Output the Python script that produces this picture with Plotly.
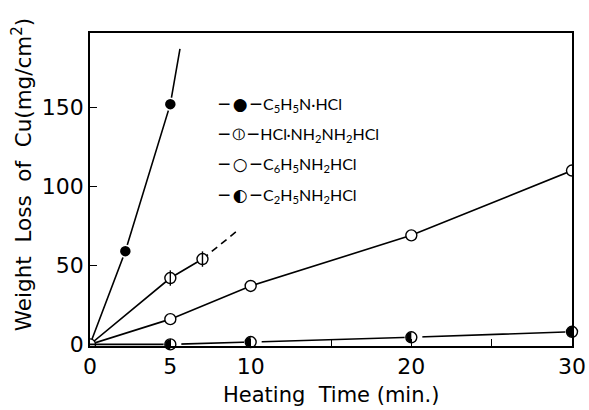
import plotly.graph_objects as go

# ---- data ----
# C5H5N·HCl (filled circles) + fitted line end
pyr_time = [2.2, 5]
pyr_loss = [59, 152]
pyr_line_end = [5.6, 187]

# HCl·NH2NH2HCl (circle with vertical bar) + dashed extrapolation end
hyd_time = [5, 7]
hyd_loss = [42, 54]
hyd_dash_end = [9.3, 73]

# C6H5NH2HCl (open circles)
ani_time = [5, 10, 20, 30]
ani_loss = [16, 37, 69, 110]

# C2H5NH2HCl (half-filled circles)
eth_time = [5, 10, 20, 30]
eth_loss = [0, 1.5, 4.5, 8]

origin = [0, 0]

x_ticks = [0, 5, 10, 15, 20, 25, 30]
x_ticktext = ["0", "5", "10", "", "20", "", "30"]
y_ticks = [0, 50, 100, 150]

legend_labels = [
    ("●", "C<sub>5</sub>H<sub>5</sub>N·HCl"),
    ("⦶", "HCl·NH<sub>2</sub>NH<sub>2</sub>HCl"),
    ("○", "C<sub>6</sub>H<sub>5</sub>NH<sub>2</sub>HCl"),
    ("◐", "C<sub>2</sub>H<sub>5</sub>NH<sub>2</sub>HCl"),
]

FONT = "DejaVu Sans, sans-serif"
LEG_FONT = "Lato, DejaVu Sans, sans-serif"
LW = 1.6
MS = 11

fig = go.Figure()

# pyridine
fig.add_trace(go.Scatter(
    x=[origin[0]] + pyr_time + [pyr_line_end[0]],
    y=[origin[1]] + pyr_loss + [pyr_line_end[1]],
    mode="lines", line=dict(color="black", width=LW), cliponaxis=False))
fig.add_trace(go.Scatter(
    x=pyr_time, y=pyr_loss, mode="markers",
    marker=dict(symbol="circle", size=MS + 1, color="black",
                line=dict(color="white", width=1.5))))

# hydrazine
fig.add_trace(go.Scatter(
    x=[hyd_time[-1], hyd_dash_end[0]], y=[hyd_loss[-1], hyd_dash_end[1]],
    mode="lines", line=dict(color="black", width=LW, dash="7px,5px")))
fig.add_trace(go.Scatter(
    x=[origin[0]] + hyd_time, y=[origin[1]] + hyd_loss,
    mode="lines", line=dict(color="black", width=LW)))
fig.add_trace(go.Scatter(
    x=hyd_time, y=hyd_loss, mode="markers",
    marker=dict(symbol="circle", size=MS, color="white",
                line=dict(color="black", width=1.4))))
fig.add_trace(go.Scatter(
    x=hyd_time, y=hyd_loss, mode="markers",
    marker=dict(symbol="line-ns-open", size=MS, color="black",
                line=dict(color="black", width=1.4))))

# aniline
fig.add_trace(go.Scatter(
    x=[origin[0]] + ani_time, y=[origin[1]] + ani_loss,
    mode="lines+markers", line=dict(color="black", width=LW),
    marker=dict(symbol="circle", size=MS, color="white",
                line=dict(color="black", width=1.4))))

# ethylamine: line, black disc, white square covering right half, outline
fig.add_trace(go.Scatter(
    x=[origin[0]] + eth_time, y=[origin[1]] + eth_loss,
    mode="lines", line=dict(color="black", width=LW), cliponaxis=False))
fig.add_trace(go.Scatter(
    x=eth_time, y=eth_loss, mode="markers", cliponaxis=False,
    marker=dict(symbol="circle", size=MS + 1, color="black",
                line=dict(color="white", width=1.5))))
fig.add_trace(go.Scatter(
    x=eth_time, y=eth_loss, mode="markers", cliponaxis=False,
    marker=dict(symbol="square", size=MS, color="white", angle=-90,
                standoff=MS / 2, line=dict(width=0))))
fig.add_trace(go.Scatter(
    x=eth_time, y=eth_loss, mode="markers", cliponaxis=False,
    marker=dict(symbol="circle-open", size=MS, color="black",
                line=dict(color="black", width=1.4))))

# legend as annotations
row_y = [0.770, 0.677, 0.581, 0.482]
for (glyph, label), yy in zip(legend_labels, row_y):
    fig.add_annotation(
        xref="paper", yref="paper", x=0.262, y=yy, xanchor="left", yanchor="middle",
        showarrow=False,
        text=(f"<span style='font-family:DejaVu Sans;font-size:17px'>─\u2009{glyph}\u2009─</span>"
              f"\u2009{label}"),
        font=dict(family=LEG_FONT, size=16, color="black"))

# axis titles as annotations (placed like the reference)
fig.add_annotation(
    xref="paper", yref="paper", x=-0.141, y=0.546, xanchor="center", yanchor="middle",
    textangle=-90, showarrow=False,
    text="Weight\u00a0\u00a0Loss\u00a0\u00a0of\u00a0\u00a0Cu(mg/cm<sup>2</sup>)",
    font=dict(family=FONT, size=21.5, color="black"))
fig.add_annotation(
    xref="paper", yref="paper", x=0.5, y=-0.157, xanchor="center", yanchor="middle",
    showarrow=False,
    text="Heating\u00a0\u00a0Time\u00a0(min.)",
    font=dict(family=FONT, size=21, color="black"))

fig.update_layout(
    width=589, height=410,
    margin=dict(l=90, r=17, t=33, b=64),
    paper_bgcolor="white", plot_bgcolor="white",
    showlegend=False,
    font=dict(family=FONT, color="black"),
    xaxis=dict(
        range=[0, 30], tickvals=x_ticks, ticktext=x_ticktext,
        ticks="inside", ticklen=7, tickwidth=1.2, tickcolor="black",
        showgrid=False, zeroline=False, automargin=False,
        showline=True, mirror=True, linecolor="black", linewidth=1.6,
        tickfont=dict(size=22),
    ),
    yaxis=dict(
        range=[-1, 197], tickvals=y_ticks,
        ticks="inside", ticklen=7, tickwidth=1.2, tickcolor="black",
        showgrid=False, zeroline=False, automargin=False,
        showline=True, mirror=True, linecolor="black", linewidth=1.6,
        tickfont=dict(size=22),
    ),
)

fig.write_html("out.html")
